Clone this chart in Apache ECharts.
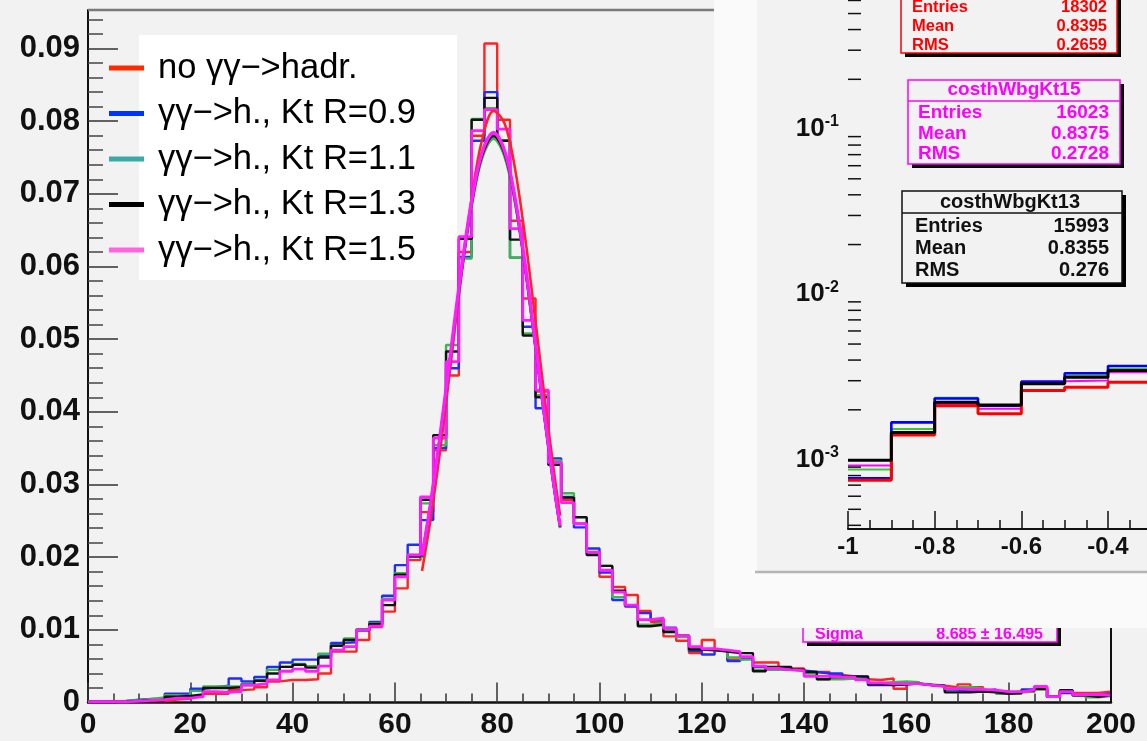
<!DOCTYPE html>
<html><head><meta charset="utf-8">
<script src="https://cdn.jsdelivr.net/npm/echarts@6/dist/echarts.min.js"></script>
<style>html,body{margin:0;padding:0;background:#f2f2f2}#c{width:1147px;height:741px}</style>
</head><body><div id="c"></div><script>
// ---------------- data ----------------
const binStart = 0, binWidth = 2.5;             // main histogram: 80 bins, 0..200
const seriesNames = ['no γγ−>hadr.', 'γγ−>h., Kt R=0.9', 'γγ−>h., Kt R=1.1', 'γγ−>h., Kt R=1.3', 'γγ−>h., Kt R=1.5'];
const redVals = [0.0001,0.0001,0.0001,0.0002,0.0002,0.0002,0.0004,0.0005,0.0008,0.0012,
0.0012,0.0017,0.0018,0.0021,0.0029,0.0031,0.0031,0.0032,0.0040,0.0070,
0.0070,0.0086,0.0104,0.0125,0.0157,0.0196,0.0262,0.0347,0.0450,0.0620,
0.0780,0.0907,0.0802,0.0663,0.0556,0.0428,0.0329,0.0279,0.0246,0.0207,
0.0173,0.0159,0.0148,0.0126,0.0111,0.0091,0.0085,0.0068,0.0086,0.0071,
0.0059,0.0061,0.0055,0.0055,0.0047,0.0047,0.0042,0.0042,0.0038,0.0036,
0.0032,0.0031,0.0033,0.0019,0.0026,0.0024,0.0023,0.0021,0.0025,0.0021,
0.0016,0.0014,0.0014,0.0015,0.0018,0.0008,0.0016,0.0013,0.0013,0.0015];
const blueVals = [0.0001,0.0001,0.0002,0.0004,0.0005,0.0005,0.0012,0.0012,0.0019,0.0021,
0.0023,0.0033,0.0029,0.0035,0.0049,0.0055,0.0059,0.0059,0.0064,0.0082,
0.0083,0.0099,0.0111,0.0147,0.0189,0.0217,0.0251,0.0350,0.0460,0.0613,
0.0773,0.0840,0.0773,0.0612,0.0517,0.0405,0.0336,0.0283,0.0241,0.0212,
0.0179,0.0141,0.0132,0.0123,0.0114,0.0103,0.0092,0.0071,0.0066,0.0071,
0.0057,0.0060,0.0049,0.0047,0.0046,0.0044,0.0042,0.0040,0.0040,0.0036,
0.0035,0.0024,0.0024,0.0025,0.0026,0.0024,0.0023,0.0017,0.0016,0.0016,
0.0018,0.0014,0.0015,0.0018,0.0021,0.0008,0.0013,0.0010,0.0010,0.0012];
const greenVals = [0.0001,0.0001,0.0002,0.0003,0.0005,0.0007,0.0010,0.0009,0.0016,0.0022,
0.0022,0.0022,0.0026,0.0031,0.0045,0.0049,0.0053,0.0050,0.0067,0.0079,
0.0088,0.0101,0.0109,0.0143,0.0178,0.0203,0.0274,0.0354,0.0492,0.0611,
0.0803,0.0818,0.0773,0.0612,0.0508,0.0423,0.0333,0.0288,0.0246,0.0205,
0.0188,0.0145,0.0134,0.0107,0.0109,0.0099,0.0090,0.0073,0.0074,0.0071,
0.0062,0.0059,0.0045,0.0045,0.0045,0.0044,0.0040,0.0032,0.0032,0.0033,
0.0031,0.0027,0.0028,0.0029,0.0028,0.0025,0.0023,0.0018,0.0021,0.0019,
0.0015,0.0012,0.0012,0.0015,0.0018,0.0008,0.0015,0.0010,0.0007,0.0009];
const blackVals = [0.0001,0.0001,0.0001,0.0002,0.0003,0.0003,0.0008,0.0009,0.0011,0.0020,
0.0020,0.0021,0.0024,0.0030,0.0040,0.0049,0.0052,0.0048,0.0062,0.0078,
0.0086,0.0100,0.0108,0.0134,0.0176,0.0201,0.0279,0.0368,0.0483,0.0638,
0.0802,0.0832,0.0773,0.0637,0.0505,0.0420,0.0327,0.0282,0.0255,0.0203,
0.0188,0.0154,0.0134,0.0105,0.0107,0.0097,0.0092,0.0073,0.0072,0.0070,
0.0068,0.0068,0.0043,0.0049,0.0049,0.0045,0.0042,0.0032,0.0035,0.0036,
0.0036,0.0025,0.0024,0.0025,0.0026,0.0024,0.0023,0.0014,0.0014,0.0015,
0.0014,0.0012,0.0013,0.0016,0.0019,0.0008,0.0017,0.0010,0.0008,0.0010];
const magentaVals = [0.0001,0.0001,0.0001,0.0002,0.0003,0.0004,0.0006,0.0006,0.0008,0.0015,
0.0014,0.0015,0.0024,0.0026,0.0031,0.0043,0.0046,0.0043,0.0050,0.0072,
0.0077,0.0100,0.0105,0.0141,0.0173,0.0203,0.0283,0.0364,0.0469,0.0641,
0.0787,0.0816,0.0789,0.0652,0.0526,0.0430,0.0330,0.0275,0.0246,0.0207,
0.0182,0.0152,0.0134,0.0114,0.0116,0.0102,0.0092,0.0077,0.0074,0.0072,
0.0070,0.0063,0.0050,0.0047,0.0045,0.0044,0.0036,0.0036,0.0035,0.0035,
0.0031,0.0027,0.0026,0.0026,0.0026,0.0024,0.0022,0.0019,0.0018,0.0018,
0.0017,0.0015,0.0015,0.0017,0.0022,0.0008,0.0015,0.0011,0.0011,0.0010];

// fitted peak curves
const fitX = [65.3, 67, 69, 71, 73, 75, 77, 79.3, 81.5, 83.5, 85.5, 87.5, 89.5, 91, 92.3];
const redFit = [0.0181,0.0253,0.0355,0.0471,0.0588,0.0694,0.0773,0.0814,0.0796,0.0734,0.0638,0.0524,0.0406,0.0323,0.0257];
const blueFit = [0.0200,0.0273,0.0373,0.0483,0.0591,0.0684,0.0750,0.0778,0.0752,0.0688,0.0596,0.0488,0.0379,0.0302,0.0241];
const greenFit = [0.0199,0.0272,0.0372,0.0482,0.0590,0.0683,0.0748,0.0776,0.0750,0.0687,0.0595,0.0487,0.0378,0.0301,0.0240];
const blackFit = [0.0201,0.0274,0.0374,0.0485,0.0593,0.0687,0.0752,0.0780,0.0754,0.0691,0.0598,0.0490,0.0380,0.0302,0.0242];
const magentaFit = [0.0202,0.0275,0.0376,0.0487,0.0596,0.0690,0.0756,0.0784,0.0758,0.0694,0.0601,0.0492,0.0382,0.0304,0.0243];

// inset (log scale) histogram, bins of 0.1 starting at -1
const insetStart = -1, insetWidth = 0.1;
const insetRed = [0.00075,0.00141,0.00212,0.00189,0.00262,0.00274,0.00294];
const insetBlue = [0.00077,0.00168,0.00234,0.00212,0.00296,0.00333,0.00368];
const insetGreen = [0.00087,0.00153,0.00237,0.00214,0.00290,0.00323,0.00355];
const insetBlack = [0.00099,0.00146,0.00222,0.00214,0.00288,0.00315,0.00346];
const insetMagenta = [0.00092,0.00143,0.00217,0.00203,0.00298,0.00301,0.00338];

// stats boxes text
const statsRed = [['Entries','18302'],['Mean','0.8395'],['RMS','0.2659']];
const statsMag = ['costhWbgKt15', [['Entries','16023'],['Mean','0.8375'],['RMS','0.2728']]];
const statsBlk = ['costhWbgKt13', [['Entries','15993'],['Mean','0.8355'],['RMS','0.276']]];
const sigmaRow = ['Sigma', '8.685 ± 16.495'];

// ---------------- styling ----------------
const FONT = '"Liberation Sans", Arial, Helvetica, sans-serif';
const lineCols = ['#ff2424', '#1f2dff', '#3fb64a', '#111111', '#ff1cff'];
const legendCols = ['#ff2a00', '#0033ff', '#39a9a9', '#000000', '#ff66dd'];
const insetCols = ['#ff0000', '#0000ff', '#33cc33', '#000000', '#ff00ff'];

function stepData(vals, x0, w) {
  const d = vals.map((v, i) => [x0 + i * w, v]);
  d.push([x0 + vals.length * w, vals[vals.length - 1]]);
  return d;
}
function fitData(ys) { return fitX.map((x, i) => [x, ys[i]]); }

const mainHist = [redVals, blueVals, greenVals, blackVals, magentaVals];
const mainFits = [redFit, blueFit, greenFit, blackFit, magentaFit];
const insetHist = [insetRed, insetBlue, insetGreen, insetBlack, insetMagenta];

const series = [];
mainHist.forEach((vals, i) => series.push({
  name: seriesNames[i], type: 'line', step: 'end', xAxisIndex: 0, yAxisIndex: 0,
  data: stepData(vals, binStart, binWidth), symbol: 'none', silent: true, z: 2 + i * 0.01,
  lineStyle: { color: lineCols[i], width: i === 4 ? 2.8 : 2.4 }, itemStyle: { color: lineCols[i] }
}));
mainFits.forEach((vals, i) => series.push({
  name: 'fit ' + i, type: 'line', smooth: 0.35, xAxisIndex: 0, yAxisIndex: 0,
  data: fitData(vals), symbol: 'none', silent: true, z: 3 + i * 0.01,
  lineStyle: { color: lineCols[i], width: i === 4 ? 3.4 : 2.6 }
}));
const insetOrder = [2, 4, 1, 0, 3];
const insetWidths = [3, 2.6, 2, 3, 2];
insetOrder.forEach((i, k) => series.push({
  name: 'inset ' + i, type: 'line', step: 'end', xAxisIndex: 1, yAxisIndex: 1,
  data: stepData(insetHist[i], insetStart, insetWidth), symbol: 'none', silent: true, z: 55 + k * 0.01,
  lineStyle: { color: insetCols[i], width: insetWidths[i] }
}));
// log-axis minor ticks for the inset
const minorLog = [];
for (let e = -4; e <= -1; e++) for (let m = 2; m <= 9; m++) {
  const v = m * Math.pow(10, e);
  if (v > 3.8e-4 && v < 1) minorLog.push([-1, v]);
}
series.push({
  type: 'custom', xAxisIndex: 1, yAxisIndex: 1, data: minorLog, silent: true, z: 61, clip: false,
  renderItem: (params, api) => {
    const p = api.coord([api.value(0), api.value(1)]);
    return { type: 'line', shape: { x1: p[0], y1: p[1], x2: p[0] + 13, y2: p[1] },
             style: { stroke: '#111', lineWidth: 1.5 } };
  }
});

// ---------------- graphic decorations ----------------
const G = [];
function txt(x, y, text, col, size, align, z) {
  G.push({ type: 'text', x: x, y: y, z: z, silent: true,
    style: { text: text, fill: col, fontSize: size, fontWeight: 'bold', fontFamily: FONT,
             align: align, verticalAlign: 'middle' } });
}
function box(x, y, w, h, col, z) {
  G.push({ type: 'rect', z: z, silent: true, shape: { x: x + 4, y: y + 4, width: w, height: h }, style: { fill: '#000' } });
  G.push({ type: 'rect', z: z + 0.1, silent: true, shape: { x: x, y: y, width: w, height: h }, style: { fill: '#f2f2f2', stroke: col, lineWidth: 1.5 } });
}
// frame lines of the main pad
G.push({ type: 'line', z: 45, silent: true, shape: { x1: 88, y1: 10, x2: 714, y2: 10 }, style: { stroke: '#7a7a7a', lineWidth: 2.5 } });
G.push({ type: 'line', z: 45, silent: true, shape: { x1: 1111, y1: 600, x2: 1111, y2: 703 }, style: { stroke: '#111', lineWidth: 2 } });
// partially hidden fit-statistics box
box(803, 590, 254, 52, '#ff00ff', 40);
txt(815, 635, sigmaRow[0], '#ff00ff', 16, 'left', 41);
txt(1043, 635, sigmaRow[1], '#ff00ff', 16, 'right', 41);
// white inset pad
G.push({ type: 'rect', z: 50, silent: true, shape: { x: 714, y: 0, width: 433, height: 628 }, style: { fill: '#fafafa' } });
G.push({ type: 'rect', z: 51, silent: true, shape: { x: 757, y: 0, width: 390, height: 571 }, style: { fill: '#f2f2f2' } });
G.push({ type: 'line', z: 51, silent: true, shape: { x1: 755, y1: 572, x2: 1147, y2: 572 }, style: { stroke: '#b4b4b4', lineWidth: 2.5 } });
// stats boxes of the inset
box(901, -40, 216, 93, '#ff0000', 70);
statsRed.forEach((r, i) => { txt(912, 7 + i * 19, r[0], '#ff0000', 16.5, 'left', 71); txt(1107, 7 + i * 19, r[1], '#ff0000', 16.5, 'right', 71); });
box(908, 80, 212, 84, '#ff00ff', 70);
G.push({ type: 'line', z: 71, silent: true, shape: { x1: 908, y1: 101, x2: 1120, y2: 101 }, style: { stroke: '#ff00ff', lineWidth: 1.5 } });
txt(1014, 90, statsMag[0], '#ff00ff', 19, 'center', 71);
statsMag[1].forEach((r, i) => { txt(918, 113 + i * 20.5, r[0], '#ff00ff', 19, 'left', 71); txt(1109, 113 + i * 20.5, r[1], '#ff00ff', 19, 'right', 71); });
box(902, 191, 220, 92, '#111', 70);
G.push({ type: 'line', z: 71, silent: true, shape: { x1: 902, y1: 213, x2: 1122, y2: 213 }, style: { stroke: '#111', lineWidth: 1.5 } });
txt(1010, 202, statsBlk[0], '#111', 20, 'center', 71);
statsBlk[1].forEach((r, i) => { txt(915, 226 + i * 22, r[0], '#111', 20, 'left', 71); txt(1109, 226 + i * 22, r[1], '#111', 20, 'right', 71); });
// legend background
G.push({ type: 'rect', z: 48, silent: true, shape: { x: 139, y: 35, width: 318, height: 245 }, style: { fill: '#ffffff' } });

const labelBold = { fontFamily: FONT, fontWeight: 'bold', color: '#111' };

const option = {
  backgroundColor: '#f2f2f2',
  animation: false,
  grid: [
    { left: 88, top: 10, width: 1023, height: 692.5, containLabel: false, outerBoundsMode: 'none' },
    { left: 848, top: -36.2, width: 866.7, height: 565.2, containLabel: false, outerBoundsMode: 'none' }
  ],
  xAxis: [
    { type: 'value', gridIndex: 0, min: 0, max: 200, interval: 20, z: 1,
      axisLine: { lineStyle: { color: '#111', width: 2.5 } },
      axisTick: { inside: true, length: 20, lineStyle: { color: '#333', width: 1.5 } },
      minorTick: { show: true, splitNumber: 4, length: 9, lineStyle: { color: '#333', width: 1.5 } },
      splitLine: { show: false },
      axisLabel: Object.assign({ fontSize: 30, margin: 7 }, labelBold) },
    { type: 'value', gridIndex: 1, min: -1, max: 1, interval: 0.2, z: 60,
      axisLine: { lineStyle: { color: '#111', width: 2 } },
      axisTick: { inside: true, length: 18, lineStyle: { color: '#111', width: 1.5 } },
      minorTick: { show: true, splitNumber: 4, length: 9, lineStyle: { color: '#111', width: 1.5 } },
      splitLine: { show: false },
      axisLabel: Object.assign({ fontSize: 24, margin: 6,
        formatter: v => Math.abs(v - Math.round(v)) < 1e-9 ? String(Math.round(v)) : v.toFixed(1) }, labelBold) }
  ],
  yAxis: [
    { type: 'value', gridIndex: 0, min: 0, max: 0.0953, interval: 0.01, z: 1,
      axisLine: { lineStyle: { color: '#111', width: 2 } },
      axisTick: { inside: true, length: 30, lineStyle: { color: '#333', width: 1.5 } },
      minorTick: { show: true, splitNumber: 5, length: 15, lineStyle: { color: '#444', width: 1.5 } },
      splitLine: { show: false },
      axisLabel: Object.assign({ fontSize: 31, margin: 8, showMaxLabel: false,
        formatter: v => (Math.abs(v * 100 - Math.round(v * 100)) > 1e-6) ? '' : (v === 0 ? '0' : v.toFixed(2)) }, labelBold) },
    { type: 'log', logBase: 10, gridIndex: 1, min: 3.8e-4, max: 1, z: 60,
      axisLine: { lineStyle: { color: '#111', width: 2 } },
      axisTick: { inside: true, length: 26, lineStyle: { color: '#111', width: 1.5 } },
      splitLine: { show: false },
      axisLabel: { margin: 9, fontSize: 26, fontWeight: 'bold', fontFamily: FONT, color: '#111',
        formatter: v => { const e = Math.log10(v), r = Math.round(e); return Math.abs(e - r) > 1e-6 ? '' : '{a|10}{b|' + r + '}'; },
        rich: { a: { fontSize: 26, fontWeight: 'bold', fontFamily: FONT, color: '#111', lineHeight: 30 },
                b: { fontSize: 16, fontWeight: 'bold', fontFamily: FONT, color: '#111', verticalAlign: 'top', lineHeight: 30 } } } }
  ],
  legend: {
    orient: 'vertical', left: 109, top: 50, padding: 0, itemGap: 9.5, z: 60,
    itemWidth: 35, itemHeight: 5, icon: 'rect', selectedMode: false,
    textStyle: { fontFamily: FONT, fontSize: 34.5, color: '#000', lineHeight: 36, padding: [0, 0, 0, 9] },
    data: seriesNames.map((n, i) => ({ name: n, icon: 'rect', itemStyle: { color: legendCols[i], borderWidth: 0 } }))
  },
  graphic: { elements: G },
  series: series
};
const chart = echarts.init(document.getElementById('c'), null, { renderer: 'canvas' });
chart.setOption(option);
</script></body></html>
